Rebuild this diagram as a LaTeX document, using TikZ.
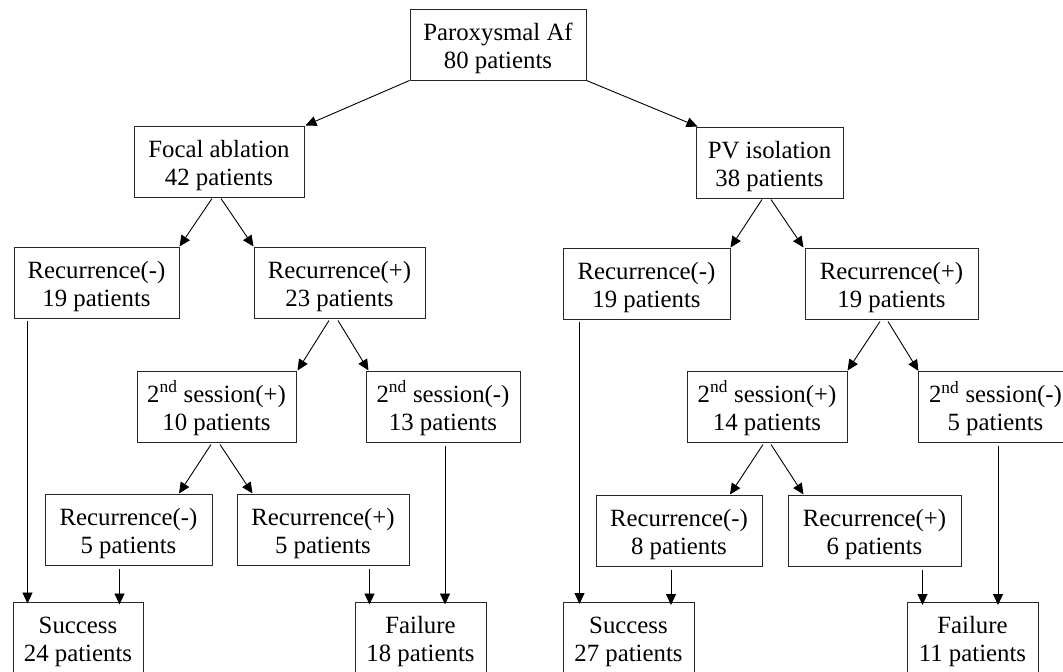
\documentclass[tikz,border=0pt]{standalone}
\usepackage{fontspec}
\setmainfont{Liberation Serif}
\usetikzlibrary{arrows.meta}
\newcommand{\twolines}[2]{\rule{0pt}{25pt}#1\\#2\rule[-6pt]{0pt}{6pt}}
\begin{document}
\begin{tikzpicture}[x=1pt,y=-1pt,
  box/.style={draw=black!85, line width=1pt, inner sep=0pt, minimum height=71pt,
    align=center, font=\fontsize{24.8}{28}\selectfont},
  arr/.style={draw=black, line width=0.9pt, -{Triangle[length=11pt,width=10pt]}}]
\useasboundingbox (0,0) rectangle (1063,672);
\clip (0,0) rectangle (1063,672);
% boxes
\node[box, minimum width=176pt] (root) at (498,44.5) {\twolines{Paroxysmal Af}{80 patients}};
\node[box, minimum width=170pt] (focal) at (219,161.5) {\twolines{Focal ablation}{42 patients}};
\node[box, minimum width=147pt] (pv) at (769.5,162.5) {\twolines{PV isolation}{38 patients}};
\node[box, minimum width=165pt] (rml) at (96.5,282.5) {\twolines{Recurrence(-)}{19 patients}};
\node[box, minimum width=171pt] (rpl) at (339.5,282.5) {\twolines{Recurrence(+)}{23 patients}};
\node[box, minimum width=167pt] (rmr) at (646.5,283.5) {\twolines{Recurrence(-)}{19 patients}};
\node[box, minimum width=173pt] (rpr) at (891.5,283.5) {\twolines{Recurrence(+)}{19 patients}};
\node[box, minimum width=159pt] (spl) at (216.5,406.5) {\twolines{2\textsuperscript{nd} session(+)}{10 patients}};
\node[box, minimum width=154pt] (sml) at (443,406.5) {\twolines{2\textsuperscript{nd} session(-)}{13 patients}};
\node[box, minimum width=160pt] (spr) at (767,406.5) {\twolines{2\textsuperscript{nd} session(+)}{14 patients}};
\node[box, minimum width=155pt] (smr) at (995.5,407) {\twolines{2\textsuperscript{nd} session(-)}{5 patients}};
\node[box, minimum width=167pt] (rmll) at (128.5,529.5) {\twolines{Recurrence(-)}{5 patients}};
\node[box, minimum width=172pt] (rpll) at (323,529.5) {\twolines{Recurrence(+)}{5 patients}};
\node[box, minimum width=166pt] (rmrr) at (679,530.5) {\twolines{Recurrence(-)}{8 patients}};
\node[box, minimum width=173pt] (rprr) at (874.5,530.5) {\twolines{Recurrence(+)}{6 patients}};
\node[box, minimum width=130pt] (sucl) at (78,637.5) {\twolines{Success}{24 patients}};
\node[box, minimum width=131pt] (faill) at (420.5,637.5) {\twolines{Failure}{18 patients}};
\node[box, minimum width=131pt] (sucr) at (628.5,638) {\twolines{Success}{27 patients}};
\node[box, minimum width=131pt] (failr) at (972.5,638) {\twolines{Failure}{11 patients}};
% diagonal arrows
\draw[arr] (root.south west) -- ([shift={(1,0)}]focal.north east);
\draw[arr] (root.south east) -- ([shift={(2,0)}]pv.north west);
\draw[arr] ([shift={(-7,1)}]focal.south) -- (rml.north east);
\draw[arr] ([shift={(2,1)}]focal.south) -- (rpl.north west);
\draw[arr] ([shift={(-7.5,1)}]pv.south) -- (rmr.north east);
\draw[arr] ([shift={(1.5,1)}]pv.south) -- ([shift={(-1,0)}]rpr.north west);
\draw[arr] ([shift={(-10.5,2)}]rpl.south) -- ([shift={(1,0)}]spl.north east);
\draw[arr] ([shift={(-1.5,2)}]rpl.south) -- ([shift={(3,0)}]sml.north west);
\draw[arr] ([shift={(-11.5,2)}]rpr.south) -- (spr.north east);
\draw[arr] ([shift={(-3.5,2)}]rpr.south) -- ([shift={(1,0)}]smr.north west);
\draw[arr] ([shift={(-5.5,2)}]spl.south) -- ([shift={(50.5,0)}]rmll.north);
\draw[arr] ([shift={(3.5,2)}]spl.south) -- ([shift={(16,0)}]rpll.north west);
\draw[arr] ([shift={(-4,2)}]spr.south) -- ([shift={(51,0)}]rmrr.north);
\draw[arr] ([shift={(4,2)}]spr.south) -- ([shift={(16,0)}]rprr.north west);
% vertical arrows
\draw[arr] ([shift={(14,2)}]rml.south west) -- ([shift={(14,2)}]rml.south west |- sucl.north);
\draw[arr] ([shift={(75,3)}]rmll.south west) -- ([shift={(75,3)}]rmll.south west |- sucl.north);
\draw[arr] ([shift={(133,3)}]rpll.south west) -- ([shift={(133,3)}]rpll.south west |- faill.north);
\draw[arr] ([shift={(2,3)}]sml.south) -- ([shift={(2,3)}]sml.south |- faill.north);
\draw[arr] ([shift={(17,2)}]rmr.south west) -- ([shift={(17,2)}]rmr.south west |- sucr.north);
\draw[arr] ([shift={(-8,3)}]rmrr.south) -- ([shift={(-8,3)}]rmrr.south |- sucr.north);
\draw[arr] ([shift={(135,3)}]rprr.south west) -- ([shift={(135,3)}]rprr.south west |- failr.north);
\draw[arr] ([shift={(2.5,3)}]smr.south) -- ([shift={(2.5,3)}]smr.south |- failr.north);
\end{tikzpicture}
\end{document}
